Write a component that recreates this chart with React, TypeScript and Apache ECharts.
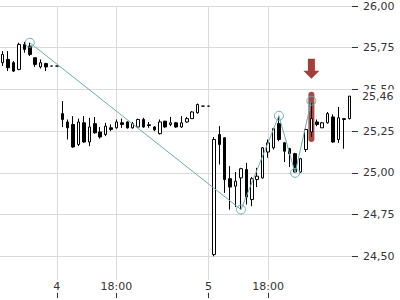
import React, { useEffect, useRef } from 'react';
import * as echarts from 'echarts';

const FONT = 'DejaVu Sans';

// time buckets (category axis)
const categories = [
  '03 17:00', '03 17:30', '03 18:00', '03 18:30', '03 19:00', '03 19:30', '03 20:00', '03 20:30', '03 21:00', '03 21:30',
  '04 00:00', '04 08:00', '04 09:00', '04 10:00', '04 11:00', '04 12:00', '04 13:00', '04 14:00', '04 15:00', '04 16:00',
  '04 17:00', '04 18:00', '04 18:30', '04 19:00', '04 19:30', '04 20:00', '04 20:30', '04 21:00', '04 21:30', '04 22:00',
  '04 22:30', '04 23:00', '04 23:30', '05 00:30', '05 01:00', '05 01:30', '05 02:00', '05 02:30', '05 00:00', '05 08:00',
  '05 09:00', '05 10:00', '05 11:00', '05 12:00', '05 13:00', '05 14:00', '05 15:00', '05 16:00', '05 17:00', '05 18:00',
  '05 18:30', '05 19:00', '05 19:30', '05 20:00', '05 20:30', '05 21:00', '05 21:30', '05 22:00', '05 22:30', '05 23:00',
  '05 23:30', '06 00:00', '06 00:30', '06 01:00', '06 01:30',
];

// [open, close, low, high]
const candles: number[][] = [
  [25.66, 25.71, 25.64, 25.73],
  [25.68, 25.63, 25.61, 25.73],
  [25.66, 25.61, 25.605, 25.67],
  [25.62, 25.77, 25.615, 25.78],
  [25.77, 25.74, 25.72, 25.785],
  [25.76, 25.71, 25.70, 25.78],
  [25.69, 25.65, 25.635, 25.69],
  [25.635, 25.66, 25.625, 25.68],
  [25.655, 25.635, 25.61, 25.66],
  [25.64, 25.64, 25.64, 25.64],
  [25.64, 25.64, 25.64, 25.64],
  [25.355, 25.32, 25.275, 25.43],
  [25.305, 25.27, 25.2, 25.32],
  [25.29, 25.155, 25.15, 25.34],
  [25.17, 25.305, 25.16, 25.325],
  [25.30, 25.185, 25.18, 25.34],
  [25.185, 25.275, 25.16, 25.33],
  [25.295, 25.24, 25.235, 25.335],
  [25.245, 25.215, 25.205, 25.275],
  [25.23, 25.28, 25.22, 25.30],
  [25.27, 25.26, 25.25, 25.29],
  [25.27, 25.305, 25.265, 25.32],
  [25.30, 25.29, 25.27, 25.325],
  [25.305, 25.27, 25.265, 25.31],
  [25.27, 25.295, 25.265, 25.305],
  [25.275, 25.32, 25.27, 25.325],
  [25.32, 25.275, 25.27, 25.33],
  [25.288, 25.284, 25.27, 25.305],
  [25.275, 25.258, 25.25, 25.28],
  [25.235, 25.305, 25.23, 25.32],
  [25.31, 25.275, 25.27, 25.31],
  [25.29, 25.30, 25.28, 25.335],
  [25.30, 25.275, 25.27, 25.305],
  [25.275, 25.30, 25.27, 25.34],
  [25.305, 25.325, 25.30, 25.335],
  [25.325, 25.365, 25.325, 25.37],
  [25.36, 25.41, 25.355, 25.415],
  [25.40, 25.40, 25.40, 25.40],
  [25.40, 25.40, 25.40, 25.40],
  [24.51, 25.20, 24.50, 25.215],
  [25.23, 25.17, 25.05, 25.28],
  [25.21, 24.96, 24.88, 25.215],
  [24.965, 24.915, 24.78, 25.04],
  [24.92, 24.95, 24.795, 25.005],
  [24.97, 25.025, 24.78, 25.03],
  [25.02, 24.855, 24.81, 25.06],
  [24.84, 24.965, 24.80, 24.975],
  [24.96, 24.98, 24.915, 25.03],
  [24.97, 25.15, 24.965, 25.155],
  [25.125, 25.18, 25.09, 25.20],
  [25.15, 25.265, 25.14, 25.27],
  [25.295, 25.20, 25.19, 25.342],
  [25.18, 25.13, 25.065, 25.185],
  [25.145, 25.115, 25.035, 25.15],
  [25.115, 25.005, 25.0, 25.12],
  [25.005, 25.085, 25.0, 25.09],
  [25.14, 25.26, 25.125, 25.265],
  [25.245, 25.325, 25.215, 25.432],
  [25.305, 25.29, 25.28, 25.32],
  [25.27, 25.30, 25.27, 25.305],
  [25.30, 25.355, 25.295, 25.365],
  [25.335, 25.185, 25.18, 25.35],
  [25.20, 25.33, 25.18, 25.395],
  [25.325, 25.32, 25.145, 25.325],
  [25.325, 25.46, 25.32, 25.46],
];

// zig-zag pivots: [category index, price]
const zigzag: number[][] = [
  [5, 25.78],
  [44, 24.78],
  [51, 25.342],
  [54, 25.0],
  [57, 25.432],
];

// flagged candle: [index, high, low]
const flag: number[][] = [[57, 25.432, 25.215]];

const lastPrice = 25.46;

const xTickLabels: [number, string][] = [
  [10, '4'],
  [21, '18:00'],
  [38, '5'],
  [49, '18:00'],
];

const yTickValues = [24.5, 24.75, 25.0, 25.25, 25.5, 25.75, 26.0];

const fmt = (v: number) => v.toFixed(2).replace('.', ',');

export default function App() {
  const ref = useRef<HTMLDivElement>(null);
  useEffect(() => {
    if (!ref.current) return;
    const chart = echarts.init(ref.current, undefined, { renderer: 'svg' });
    const tickMap = new Map<number, string>(xTickLabels);
    const showAt = (i: number) => tickMap.has(i);
    const teal = '#6aadb3';
    const red = '#a13f38';
    chart.setOption({
      animation: false,
      textStyle: { fontFamily: FONT },
      grid: { left: 0, right: 48, top: 6, bottom: 2, outerBoundsMode: 'none' },
      xAxis: {
        type: 'category',
        data: categories,
        boundaryGap: true,
        axisLine: { show: false },
        axisTick: {
          show: true,
          inside: true,
          length: 5,
          alignWithLabel: true,
          interval: showAt,
          lineStyle: { color: '#333' },
        },
        axisLabel: {
          inside: true,
          interval: showAt,
          margin: 6,
          fontSize: 11,
          color: '#333',
          fontFamily: FONT,
          backgroundColor: '#fff',
          padding: [1, 1, 0, 1],
          formatter: (_v: string, i: number) => tickMap.get(i) ?? '',
        },
        splitLine: {
          show: true,
          interval: showAt,
          alignWithLabel: true,
          lineStyle: { color: '#dadada', width: 1 },
        },
      },
      yAxis: {
        type: 'value',
        position: 'right',
        min: 24.25,
        max: 26.0,
        interval: 0.25,
        axisLine: { show: false },
        axisTick: { show: true, length: 6, lineStyle: { color: '#333' }, customValues: yTickValues },
        axisLabel: {
          margin: 11,
          fontSize: 11,
          color: '#333',
          fontFamily: FONT,
          customValues: yTickValues,
          formatter: (v: number) => fmt(v),
        },
        splitLine: { show: true, lineStyle: { color: '#dadada', width: 1 } },
      },
      series: [
        {
          type: 'custom',
          z: 1,
          data: flag,
          encode: { x: 0, y: 1 },
          renderItem: (_p: any, api: any) => {
            const i = api.value(0);
            const top = api.coord([i, api.value(1)]);
            const bot = api.coord([i, api.value(2)]);
            const x = top[0];
            const tip = top[1] - 22;
            return {
              type: 'group',
              children: [
                {
                  type: 'rect',
                  shape: { x: x - 3, y: top[1] - 9, width: 6, height: bot[1] - top[1] + 14, r: 3 },
                  style: { fill: red, opacity: 0.95 },
                },
                {
                  type: 'polygon',
                  shape: {
                    points: [
                      [x - 3.5, tip - 20],
                      [x + 3.5, tip - 20],
                      [x + 3.5, tip - 8],
                      [x + 8, tip - 8],
                      [x, tip],
                      [x - 8, tip - 8],
                      [x - 3.5, tip - 8],
                    ],
                  },
                  style: { fill: red },
                },
              ],
            };
          },
        },
        {
          type: 'candlestick',
          z: 2,
          data: candles,
          barWidth: 3,
          itemStyle: {
            color: '#ffffff',
            color0: '#000000',
            borderColor: '#000000',
            borderColor0: '#000000',
            borderColorDoji: '#000000',
            borderWidth: 1,
          },
          markLine: {
            silent: true,
            symbol: 'none',
            lineStyle: { color: 'rgba(0,0,0,0)', width: 0 },
            label: {
              position: 'end',
              distance: 10,
              formatter: () => fmt(lastPrice),
              color: '#333',
              fontSize: 11,
              fontFamily: FONT,
              backgroundColor: '#fff',
              padding: [1, 2, 1, 0],
            },
            data: [{ yAxis: lastPrice }],
          },
        },
        {
          type: 'line',
          z: 3,
          data: zigzag,
          symbol: 'circle',
          symbolSize: 9,
          showAllSymbol: true,
          lineStyle: { color: teal, width: 1 },
          itemStyle: { color: 'rgba(255,255,255,0)', borderColor: teal, borderWidth: 1 },
        },
      ],
    });
    return () => chart.dispose();
  }, []);
  return (
    <div
      ref={ref}
      style={{ position: 'absolute', left: 0, top: 0, width: 400, height: 300 }}
    />
  );
}
